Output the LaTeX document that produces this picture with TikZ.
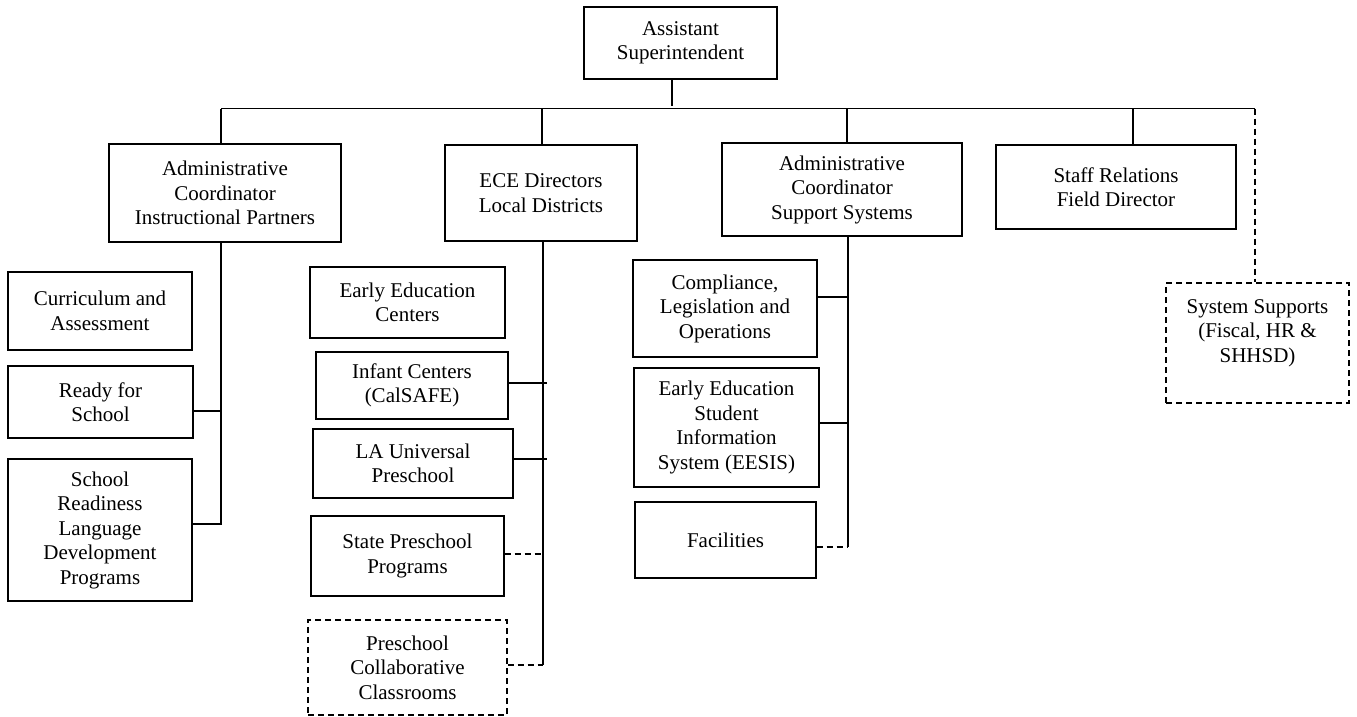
\documentclass[tikz,border=0pt]{standalone}
\usepackage{fontspec}
\setmainfont{Liberation Serif}

\begin{document}
\begin{tikzpicture}[x=1pt,y=-1pt,
  box/.style={draw=black, line width=1.4pt, rectangle, inner sep=0pt, align=center,
              font=\fontsize{21}{24.5}\selectfont},
  dbox/.style={box, dash pattern=on 6pt off 4pt},
  link/.style={line width=1.4pt},
  dlink/.style={link, dash pattern=on 6pt off 4pt},
]
\fill[white] (0,0) rectangle (1357,717);
\useasboundingbox (0,0) rectangle (1357,717);

% head of the chart
\node[box, minimum width=193pt, minimum height=72pt] (sup) at (680.5,43) {Assistant\\Superintendent};

% second level
\node[box, minimum width=232pt, minimum height=98pt] (aip) at (225,193)
  {Administrative\\Coordinator\\Instructional Partners};
\node[box, minimum width=192pt, minimum height=96pt] (ece) at (541,193)
  {ECE Directors\\Local Districts};
\node[box, minimum width=240pt, minimum height=93pt] (ass) at (842,189.5)
  {Administrative\\Coordinator\\Support Systems};
\node[box, minimum width=240pt, minimum height=84pt] (srf) at (1116,187)
  {Staff Relations\\Field Director};
\node[dbox, minimum width=183pt, minimum height=120pt] (sys) at (1257.5,343)
  {System Supports\\(Fiscal, HR \&\\SHHSD)\\\mbox{}};

% instructional partners units
\node[box, minimum width=184pt, minimum height=78pt] (cur) at (100,311) {Curriculum and\\Assessment};
\node[box, minimum width=185pt, minimum height=72pt] (rfs) at (100.5,402) {Ready for\\School};
\node[box, minimum width=184pt, minimum height=142pt] (srl) at (100,530)
  {School\\Readiness\\Language\\Development\\Programs};

% local district programs
\node[box, minimum width=195pt, minimum height=71pt] (eec) at (407.5,302.5) {Early Education\\Centers};
\node[box, minimum width=192pt, minimum height=67pt] (ic) at (412,385.5) {Infant Centers\\(CalSAFE)};
\node[box, minimum width=200pt, minimum height=69pt] (la) at (413,463.5) {LA Universal\\Preschool};
\node[box, minimum width=193pt, minimum height=80pt] (sp) at (407.5,556) {State Preschool\\Programs};
\node[dbox, minimum width=199pt, minimum height=95pt] (pc) at (407.5,667.5)
  {Preschool\\Collaborative\\Classrooms};

% support systems units
\node[box, minimum width=184pt, minimum height=97pt] (cmp) at (725,308.5)
  {Compliance,\\Legislation and\\Operations};
\node[box, minimum width=185pt, minimum height=119pt] (ees) at (726.5,427.5)
  {Early Education\\Student\\Information\\System (EESIS)};
\node[box, minimum width=181pt, minimum height=76pt] (fac) at (725.5,540) {Facilities};

% main bus and its junctions
\coordinate (busL) at (221,108.5);
\coordinate (busR) at (1255,108.5);
\coordinate (j0) at (672,108.5);
\coordinate (j2) at (542,108.5);
\coordinate (j3) at (847,108.5);
\coordinate (j4) at (1133,108.5);

\draw[link] (busL) -- (busR);
\draw[link] (sup.south -| j0) -- ([yshift=3pt]j0);
\draw[link] (busL) -- (busL |- aip.north);
\draw[link] (j2) -- (j2 |- ece.north);
\draw[link] (j3) -- (j3 |- ass.north);
\draw[link] (j4) -- (j4 |- srf.north);
\draw[dlink] (busR) -- (busR |- sys.north);

% instructional partners branch
\coordinate (lA) at (221,411);
\coordinate (lB) at (221,524);
\draw[link] (busL |- aip.south) -- (lB) -- (lB -| srl.east);
\draw[link] (lA) -- (lA -| rfs.east);

% local districts branch
\coordinate (eA) at (547,383);
\coordinate (eB) at (547,459);
\coordinate (eC) at (543,554);
\coordinate (eD) at (543,665);
\draw[link] (ece.south -| eD) -- (eD);
\draw[link] (eA -| ic.east) -- (eA);
\draw[link] (eB -| la.east) -- (eB);
\draw[dlink] (eC -| sp.east) -- (eC);
\draw[dlink] (eD -| pc.east) -- (eD);

% support systems branch
\coordinate (sA) at (848,297);
\coordinate (sB) at (848,423);
\coordinate (sC) at (848,547);
\draw[link] (ass.south -| sC) -- (sC);
\draw[link] (sA -| cmp.east) -- (sA);
\draw[link] (sB -| ees.east) -- (sB);
\draw[dlink] (sC -| fac.east) -- (sC);
\end{tikzpicture}
\end{document}
